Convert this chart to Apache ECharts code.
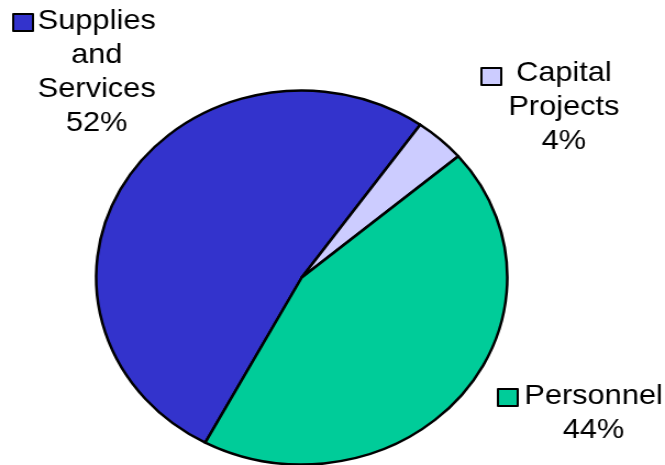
<!DOCTYPE html>
<html>
<head>
<meta charset="utf-8">
<script src="https://cdn.jsdelivr.net/npm/echarts@6/dist/echarts.min.js"></script>
<style>
  html, body { margin: 0; padding: 0; background: #ffffff; overflow: hidden; }
  /* The chart is laid out in a narrower frame and stretched horizontally,
     which turns the pie into an ellipse and widens the text with it. */
  #chart {
    position: absolute; left: 0; top: 0;
    width: 605px; height: 465px;
    transform: scaleX(1.0992); transform-origin: 0 0;
  }
</style>
</head>
<body>
<div id="chart"></div>
<script>
// Budget shares (percent)
var categories = ['Supplies and Services', 'Capital Projects', 'Personnel'];
var values = [52, 4, 44];
var labelText = ['Supplies\nand\nServices', 'Capital\nProjects', 'Personnel'];
var colors = ['#3333CC', '#CCCCFF', '#00CC99'];

// Label block anchors (top-centre) and key squares, in the unstretched frame
var labelAnchors = [[88, 4], [513, 56], [540, 379]];
var keyPositions = [[11, 13], [437, 67], [452, 388]];

var chart = echarts.init(document.getElementById('chart'), null, { renderer: 'canvas' });

var pieData = categories.map(function (name, i) {
  return { name: name, value: values[i], itemStyle: { color: colors[i] } };
});

var legends = categories.map(function (name, i) {
  return {
    data: [name],
    left: keyPositions[i][0],
    top: keyPositions[i][1],
    padding: 0,
    itemWidth: 18,
    itemHeight: 17,
    icon: 'rect',
    selectedMode: false,
    formatter: function () { return ''; },
    itemStyle: { borderColor: '#000000', borderWidth: 2 },
    textStyle: { fontSize: 1 }
  };
});

chart.setOption({
  animation: false,
  backgroundColor: '#ffffff',
  legend: legends,
  series: [{
    type: 'pie',
    center: [274.5, 277.5],
    radius: 187,
    startAngle: 242,
    clockwise: true,
    data: pieData,
    itemStyle: { borderColor: '#000000', borderWidth: 2.5 },
    emphasis: { disabled: true },
    labelLine: { show: false },
    label: {
      show: true,
      position: 'outside',
      overflow: 'none',
      fontFamily: 'Liberation Sans, Arial, sans-serif',
      fontSize: 28,
      lineHeight: 34,
      color: '#000000',
      align: 'center',
      formatter: function (p) {
        return labelText[p.dataIndex] + '\n' + p.value + '%';
      }
    },
    labelLayout: function (p) {
      var a = labelAnchors[p.dataIndex];
      return { x: a[0], y: a[1], align: 'center', verticalAlign: 'top' };
    }
  }]
});
</script>
</body>
</html>
